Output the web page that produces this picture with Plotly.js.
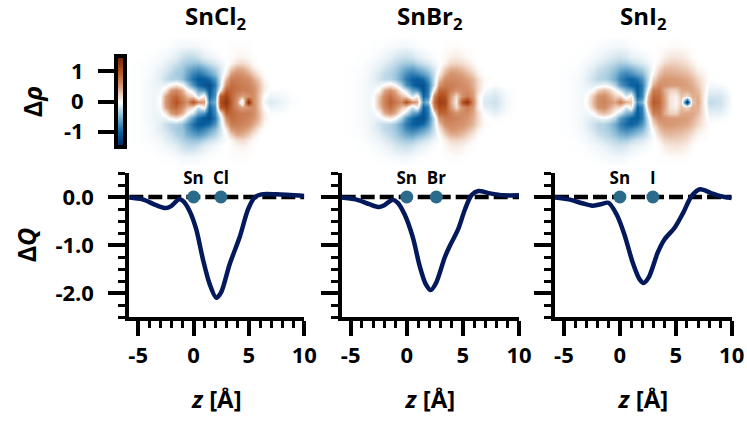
<!DOCTYPE html>
<html>
<head>
<meta charset="utf-8">
<script src="https://cdn.plot.ly/plotly-3.0.1.min.js"></script>
<style>html,body{margin:0;padding:0;background:#fff}</style>
</head>
<body>
<div id="chart"></div>
<script>
// Q(z) curves
const zCl = [-5.85,-4.6,-3.38,-2.53,-2.02,-1.33,-0.97,-0.36,0.24,0.84,1.45,2.05,2.5,3.26,4.16,4.92,5.52,6.12,7.48,10];
const qCl = [-0.01,-0.05,-0.17,-0.23,-0.19,-0.05,-0.08,-0.29,-0.67,-1.29,-1.81,-2.10,-1.98,-1.40,-0.84,-0.26,-0.01,0.055,0.055,0.02];
const zBr = [-5.85,-4.55,-3.35,-2.5,-2.0,-1.3,-0.8,-0.2,0.54,1.14,1.68,2.13,2.63,3.38,3.83,4.58,5.18,5.78,6.38,7.42,8.62,10];
const qBr = [-0.01,-0.05,-0.15,-0.21,-0.17,-0.06,-0.12,-0.36,-0.84,-1.43,-1.81,-1.94,-1.78,-1.26,-1.02,-0.67,-0.26,0.04,0.125,0.075,0.035,0.035];
const zI = [-5.85,-4.58,-3.37,-2.47,-1.72,-1.02,-0.3,0.39,1.14,1.75,2.14,2.59,3.4,4.0,4.9,5.66,6.42,7.17,8.22,9.13,10];
const qI = [-0.01,-0.05,-0.13,-0.18,-0.15,-0.12,-0.36,-0.77,-1.36,-1.71,-1.79,-1.67,-1.15,-0.88,-0.64,-0.33,0.02,0.16,0.076,0.01,-0.02];

// atom labels and positions
const titles = ['SnCl<sub>2</sub>', 'SnBr<sub>2</sub>', 'SnI<sub>2</sub>'];
const atomsCl = ['Sn', 'Cl'];
const atomsBr = ['Sn', 'Br'];
const atomsI = ['Sn', 'I'];
const atomZCl = [0, 2.47];
const atomZBr = [0, 2.63];
const atomZI = [0, 2.95];

// density maps: upper half only, the picture is symmetric around y=0
const mapX = [-6,-5,-4,-3.5,-3,-2.5,-2,-1.5,-1,-0.5,0,0.5,1,1.5,2,2.5,3,3.5,4,4.5,5,5.5,6,6.5,7,8,9,10];
const mapY = [0,0.5,1,1.5,2,2.5,3,3.5,4,5,6];
const rhoCl = [
  [0,-.01,-.05,-.07,0,.5,.8,1,.75,.55,1,.6,.5,-.8,-.5,1,1.3,.9,.5,-.2,1.4,.6,.3,-.05,-.15,-.08,-.02,0],
  [0,-.01,-.05,-.07,-.01,.45,.75,.85,.6,.35,.2,-.2,.1,-1,-.7,.9,1.15,.85,.6,.45,.55,.6,.3,.02,-.08,-.05,-.01,0],
  [0,-.01,-.05,-.07,-.06,.1,.5,.6,.4,.05,-.2,-.6,-.7,-1.1,-.75,.05,.9,.85,.75,.7,.7,.6,.35,.1,-.02,-.02,0,0],
  [0,-.01,-.05,-.07,-.08,-.08,.05,.15,0,-.3,-.7,-.95,-1.1,-1.15,-.85,-.2,.6,.8,.75,.7,.65,.55,.35,.1,0,0,0,0],
  [0,-.01,-.04,-.07,-.12,-.22,-.3,-.3,-.4,-.65,-.9,-1.05,-1.05,-.95,-.7,-.2,.35,.7,.7,.65,.6,.45,.25,.04,0,0,0,0],
  [0,-.01,-.03,-.06,-.12,-.18,-.28,-.35,-.4,-.6,-.8,-.9,-.8,-.65,-.45,-.2,.12,.5,.6,.55,.45,.3,.1,.01,0,0,0,0],
  [0,-.01,-.03,-.05,-.08,-.13,-.2,-.3,-.35,-.5,-.6,-.65,-.55,-.42,-.3,-.15,0,.25,.42,.4,.28,.12,.02,0,0,0,0,0],
  [0,-.01,-.02,-.03,-.05,-.1,-.15,-.2,-.3,-.35,-.4,-.4,-.3,-.22,-.15,-.08,-.02,.05,.18,.2,.12,.03,0,0,0,0,0,0],
  [0,0,-.01,-.02,-.03,-.05,-.08,-.12,-.2,-.25,-.25,-.2,-.12,-.08,-.05,-.02,0,.02,.05,.07,.04,.01,0,0,0,0,0,0],
  [0,0,0,0,-.01,-.01,-.02,-.03,-.05,-.05,-.05,-.04,-.02,-.01,0,0,0,.01,.01,.01,.01,0,0,0,0,0,0,0],
  [0,0,0,0,0,0,0,0,0,0,0,0,0,0,0,0,0,0,0,0,0,0,0,0,0,0,0,0]
];
const rhoBr = [
  [0,-.01,-.03,-.06,-.01,.35,.65,.9,.75,.6,1,.6,.45,-.7,-.4,.8,1.2,1.1,.5,.1,1,1.3,.6,.1,-.15,-.2,-.05,0],
  [0,-.01,-.03,-.06,-.02,.3,.6,.8,.6,.35,.2,-.2,.1,-1,-.8,.65,1.05,1,.55,.2,.55,.7,.5,.1,-.1,-.17,-.04,0],
  [0,-.01,-.03,-.06,-.06,.05,.4,.55,.4,.05,-.2,-.6,-.7,-1.1,-.85,.1,.85,.85,.7,.55,.6,.6,.45,.2,-.02,-.1,-.02,0],
  [0,-.01,-.03,-.06,-.08,-.08,.03,.12,0,-.3,-.7,-.95,-1.1,-1.15,-.85,-.2,.55,.7,.7,.65,.6,.55,.4,.2,.02,-.03,0,0],
  [0,-.01,-.03,-.06,-.1,-.18,-.25,-.28,-.38,-.6,-.85,-1,-1.05,-.95,-.7,-.2,.3,.6,.62,.6,.55,.48,.38,.18,.03,0,0,0],
  [0,-.01,-.02,-.05,-.1,-.16,-.25,-.3,-.38,-.55,-.75,-.85,-.8,-.65,-.5,-.2,.12,.42,.55,.52,.47,.38,.25,.08,0,0,0,0],
  [0,-.01,-.02,-.04,-.07,-.11,-.18,-.25,-.32,-.45,-.55,-.6,-.5,-.4,-.3,-.15,0,.25,.38,.4,.33,.24,.12,.02,0,0,0,0],
  [0,0,-.01,-.03,-.05,-.08,-.12,-.18,-.25,-.32,-.36,-.36,-.28,-.2,-.15,-.06,-.02,.08,.2,.22,.18,.12,.04,0,0,0,0,0],
  [0,0,-.01,-.01,-.02,-.04,-.07,-.1,-.16,-.2,-.22,-.18,-.12,-.08,-.05,-.02,0,.03,.08,.11,.08,.03,.01,0,0,0,0,0],
  [0,0,0,0,-.01,-.01,-.02,-.03,-.04,-.05,-.05,-.04,-.02,-.01,0,0,0,.01,.01,.02,.01,0,0,0,0,0,0,0],
  [0,0,0,0,0,0,0,0,0,0,0,0,0,0,0,0,0,0,0,0,0,0,0,0,0,0,0,0]
];
const rhoI = [
  [0,-.01,-.03,-.05,.06,.35,.6,.65,.55,.45,.7,.4,.3,-.7,-.5,.45,.95,.85,.5,.15,.05,.25,-1.5,.3,.45,-.25,-.2,-.02],
  [0,-.01,-.03,-.05,-.01,.3,.55,.6,.45,.25,.2,-.15,.1,-1,-.8,.35,.85,.8,.48,.15,.08,.33,.2,.4,.4,-.18,-.17,-.02],
  [0,-.01,-.03,-.05,-.06,0,.25,.35,.25,.02,-.2,-.5,-.6,-1.05,-.85,.05,.7,.7,.42,.25,.25,.42,.45,.45,.35,-.1,-.1,-.01],
  [0,-.01,-.03,-.06,-.09,-.13,-.1,-.05,-.1,-.3,-.65,-.85,-1,-1.05,-.85,-.15,.4,.6,.55,.5,.5,.5,.48,.42,.28,-.05,-.03,0],
  [0,-.01,-.03,-.06,-.12,-.2,-.28,-.3,-.38,-.55,-.8,-.95,-1,-.9,-.7,-.22,.22,.45,.52,.52,.5,.48,.44,.36,.22,-.01,0,0],
  [0,-.01,-.02,-.05,-.1,-.18,-.26,-.3,-.36,-.5,-.7,-.8,-.75,-.6,-.5,-.2,.06,.33,.44,.44,.42,.4,.35,.27,.12,0,0,0],
  [0,-.01,-.02,-.04,-.07,-.12,-.2,-.25,-.3,-.4,-.5,-.55,-.48,-.38,-.3,-.15,-.02,.2,.33,.35,.33,.3,.25,.16,.05,0,0,0],
  [0,0,-.01,-.03,-.05,-.08,-.12,-.17,-.22,-.28,-.33,-.32,-.25,-.18,-.15,-.07,-.02,.07,.2,.25,.25,.22,.17,.08,.01,0,0,0],
  [0,0,-.01,-.01,-.02,-.04,-.06,-.09,-.13,-.17,-.19,-.16,-.1,-.08,-.06,-.03,-.01,.02,.09,.14,.15,.13,.08,.02,0,0,0,0],
  [0,0,0,0,-.01,-.01,-.02,-.03,-.04,-.05,-.05,-.04,-.02,-.01,0,0,0,.01,.01,.02,.02,.02,.01,0,0,0,0,0],
  [0,0,0,0,0,0,0,0,0,0,0,0,0,0,0,0,0,0,0,0,0,0,0,0,0,0,0,0]
];
const cbarLevels = [-1.5,-1.25,-1,-0.75,-0.5,-0.25,0,0.25,0.5,0.75,1,1.25,1.5];
const cbarTicks = [-1, 0, 1];
const cbarLabels = ['-1', '0', '1'];
const qTicks = [0, -1, -2];
const qLabels = ['0.0', '-1.0', '-2.0'];
const zTicks = [-5, 0, 5, 10];
const zLabels = ['-5', '0', '5', '10'];
const dashX = [-5.8, 10];
const dashY = [0, 0];

const W = 747, H = 424;
const FONT = '"Open Sans", sans-serif';
const bold = size => ({size: size, family: FONT, color: '#000', weight: 700});
const scale = [
  [0, '#04205f'], [0.167, '#0a62a0'], [0.333, '#7db3d2'], [0.42, '#c4dce9'], [0.5, '#ffffff'],
  [0.58, '#efd3c2'], [0.667, '#d89a76'], [0.833, '#b5511f'], [1, '#6e2208']
];
const fullY = mapY.slice().reverse().map(v => -v).concat(mapY.slice(1));
const fullRows = half => half.slice().reverse().concat(half.slice(1));

const heatDom = [[127, 305], [340, 519], [554, 733]];
const lineDom = [[129.3, 304.3], [341.7, 519], [555, 731.7]];
const lineZ = [zCl, zBr, zI], lineQ = [qCl, qBr, qI];
const atomZ = [atomZCl, atomZBr, atomZI], atomText = [atomsCl, atomsBr, atomsI];
const rhos = [rhoCl, rhoBr, rhoI];
const px = d => [d[0] / W, d[1] / W];

const data = [];
const layout = {
  width: W, height: H, margin: {l: 0, r: 0, t: 0, b: 0},
  paper_bgcolor: '#fff', plot_bgcolor: 'rgba(0,0,0,0)', showlegend: false,
  font: bold(22),
  coloraxis: {colorscale: scale, cmin: -1.5, cmax: 1.5, showscale: false},
  annotations: []
};

for (let i = 0; i < 3; i++) {
  const hx = 'x' + (i + 1), hy = 'y' + (i + 1), lx = 'x' + (i + 4), ly = 'y' + (i + 4);
  data.push({type: 'heatmap', x: mapX, y: fullY, z: fullRows(rhos[i]), coloraxis: 'coloraxis',
    zsmooth: 'best', xaxis: hx, yaxis: hy, hoverinfo: 'skip'});
  data.push({type: 'scatter', mode: 'lines', x: dashX, y: dashY, xaxis: lx, yaxis: ly,
    line: {color: '#000', width: 4.5, dash: '14px,5px'}, cliponaxis: false});
  data.push({type: 'scatter', mode: 'lines', x: lineZ[i], y: lineQ[i], xaxis: lx, yaxis: ly,
    line: {color: '#03195c', width: 4.5, shape: 'spline', smoothing: 0.8}, cliponaxis: false});
  data.push({type: 'scatter', mode: 'markers+text', x: atomZ[i], y: [0, 0], text: atomText[i],
    textposition: 'top center', textfont: bold(17),
    marker: {color: '#2a6a8a', size: 13}, xaxis: lx, yaxis: ly, cliponaxis: false});

  layout['xaxis' + (i + 1)] = {domain: px(heatDom[i]), range: [-6, 10.2], anchor: hy, visible: false};
  layout['yaxis' + (i + 1)] = {domain: [1 - 166 / H, 1 - 37 / H], range: [-5.85, 5.85], anchor: hx, visible: false};
  layout['xaxis' + (i + 4)] = {
    domain: px(lineDom[i]), range: [-5.8, 10], anchor: ly, showline: true, linewidth: 4, linecolor: '#000',
    ticks: 'outside', ticklen: 15, tickwidth: 4, tickcolor: '#000', tickmode: 'array', tickvals: zTicks, ticktext: zLabels,
    ticklabelstandoff: 1, tickfont: bold(22),
    minor: {dtick: 1, ticks: 'outside', ticklen: 7, tickwidth: 3, tickcolor: '#000', showgrid: false},
    showgrid: false, zeroline: false,
    title: {text: '<i>z</i> [Å]', standoff: 24, font: bold(24)}
  };
  layout['yaxis' + (i + 4)] = {
    domain: [1 - 317 / H, 1 - 173 / H], range: [-2.5, 0.5], anchor: lx, showline: true, linewidth: 4, linecolor: '#000',
    ticks: 'outside', ticklen: 17, tickwidth: 4, tickcolor: '#000', tickmode: 'array', tickvals: qTicks,
    ticktext: qLabels, showticklabels: i === 0, ticklabelstandoff: 10, tickfont: bold(22),
    minor: {dtick: 0.25, ticks: 'outside', ticklen: 7, tickwidth: 3, tickcolor: '#000', showgrid: false},
    showgrid: false, zeroline: false
  };
  if (i === 0) {
    layout.yaxis4.title = {text: 'Δ<i>Q</i>', standoff: 13, font: bold(25)};
  }
  layout.annotations.push({
    text: titles[i], showarrow: false, xref: 'paper', yref: 'paper', xanchor: 'center', yanchor: 'middle',
    x: (heatDom[i][0] + heatDom[i][1]) / 2 / W, y: 1 - 17 / H,
    font: bold(24)
  });
}

// colour bar as its own small axes
data.push({type: 'heatmap', x: [0, 1], y: cbarLevels, z: cbarLevels.map(v => [v, v]), coloraxis: 'coloraxis',
  zsmooth: 'best', xaxis: 'x7', yaxis: 'y7', hoverinfo: 'skip'});
layout.xaxis7 = {domain: px([118, 123]), range: [0, 1], anchor: 'y7', showline: true, mirror: true, linewidth: 4,
  linecolor: '#000', showticklabels: false, ticks: '', showgrid: false, zeroline: false};
layout.yaxis7 = {domain: [1 - 145 / H, 1 - 58 / H], range: [-1.44, 1.44], anchor: 'x7', showline: true, mirror: true, linewidth: 4,
  linecolor: '#000', ticks: 'outside', ticklen: 16, tickwidth: 4, tickcolor: '#000', tickmode: 'array',
  tickvals: cbarTicks, ticktext: cbarLabels, ticklabelstandoff: 10, tickfont: bold(22), showgrid: false, zeroline: false,
  title: {text: 'Δ<i>ρ</i>', standoff: 15, font: bold(25)}};

Plotly.newPlot('chart', data, layout, {displayModeBar: false, staticPlot: true});
</script>
</body>
</html>
